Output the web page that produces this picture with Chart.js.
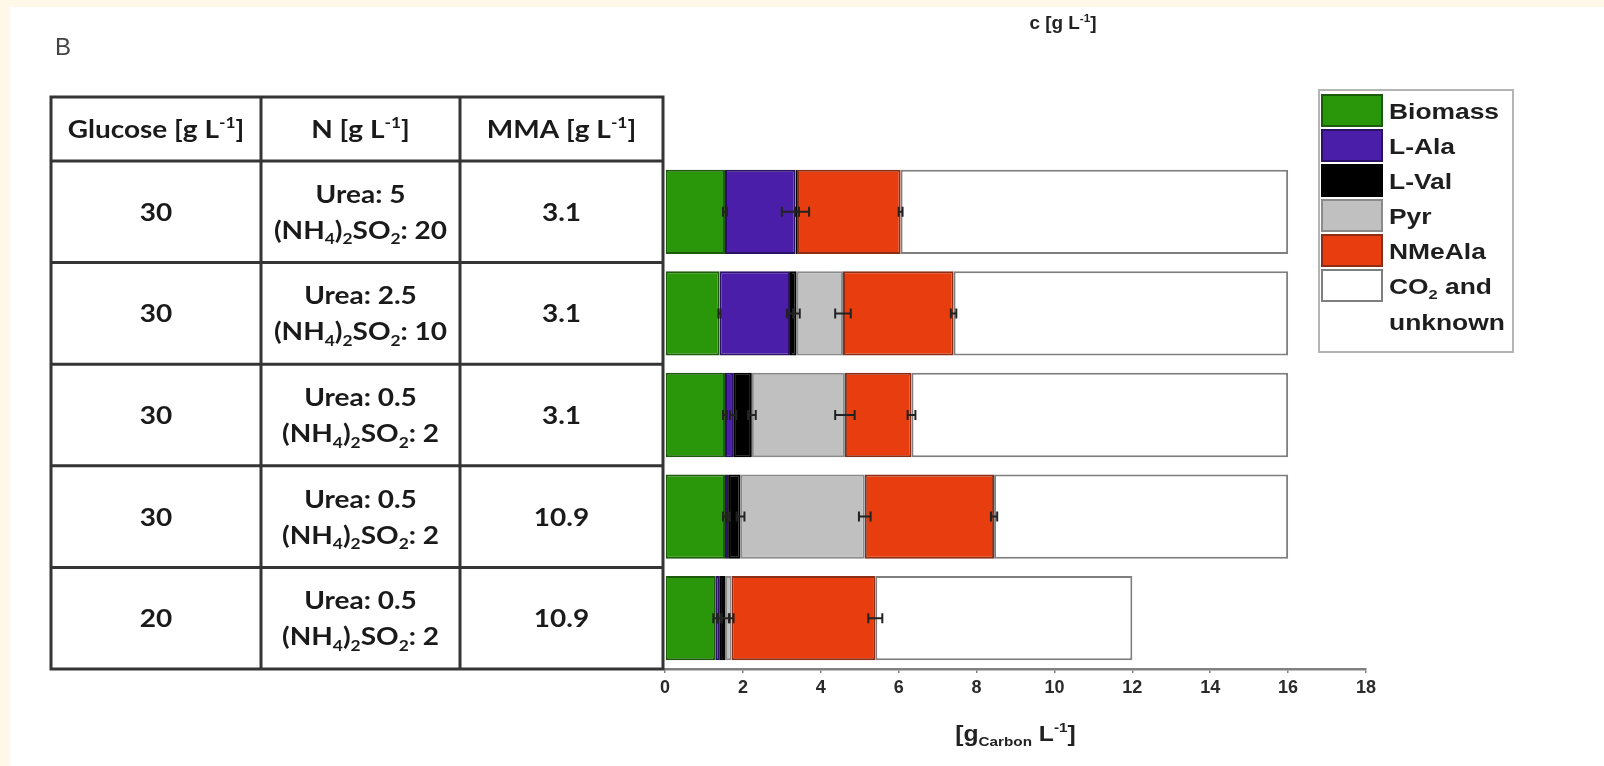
<!DOCTYPE html>
<html><head><meta charset="utf-8">
<script src="https://cdn.jsdelivr.net/npm/chart.js@4.4.1/dist/chart.umd.min.js"></script>
<style>html,body{margin:0;padding:0;background:#fff;}#wrap{width:1604px;height:766px;position:relative;}</style>
</head><body><div id="wrap"><canvas id="c" width="1604" height="766"></canvas></div>
<script>
// ---- data ----
const categories = ['Glc 30 / Urea 5 / AS 20 / MMA 3.1','Glc 30 / Urea 2.5 / AS 10 / MMA 3.1','Glc 30 / Urea 0.5 / AS 2 / MMA 3.1','Glc 30 / Urea 0.5 / AS 2 / MMA 10.9','Glc 20 / Urea 0.5 / AS 2 / MMA 10.9'];
const glucose = ['30','30','30','30','20'];
const urea = ['5','2.5','0.5','0.5','0.5'];
const ammonium = ['20','10','2','2','2'];
const mma = ['3.1','3.1','3.1','10.9','10.9'];
const seriesNames = ['Biomass','L-Ala','L-Val','Pyr','NMeAla','CO2 and unknown'];
const biomass = [1.54, 1.40, 1.54, 1.54, 1.29];
const lAla    = [1.81, 1.81, 0.21, 0.08, 0.12];
const lVal    = [0.04, 0.17, 0.48, 0.32, 0.13];
const pyr     = [0.00, 1.19, 2.39, 3.19, 0.17];
const nMeAla  = [2.66, 2.84, 1.71, 3.32, 3.69];
const co2     = [9.95, 8.59, 9.67, 7.55, 6.60];
const errBiomass = [0.05, 0.03, 0.05, 0.05, 0.05];
const errAla     = [0.35, 0.08, 0.08, 0.05, 0.05];
const errVal     = [0.05, 0.08, 0.10, 0.10, 0.10];
const errPyr     = [0.00, 0.20, 0.25, 0.15, 0.05];
const errNMeAla  = [0.05, 0.07, 0.10, 0.08, 0.18];
const xTicks = [0,2,4,6,8,10,12,14,16,18];

const seriesValues = [biomass, lAla, lVal, pyr, nMeAla, co2];
const seriesErrors = [errBiomass, errAla, errVal, errPyr, errNMeAla, null];
const fills   = ['#2a960a','#4b1eaa','#000000','#c0c0c0','#e83e0f','#ffffff'];
const borders = ['#1d5a0c','#2b1266','#000000','#8a8a8a','#8c2e16','#7f7f7f'];

const SANS = '"Liberation Sans", Arial, sans-serif';
const NARROW = '"Liberation Sans Narrow", "Liberation Sans", Arial, sans-serif';
const TBL = 'Lato, "Open Sans", sans-serif';

function rich(ctx, parts, x, y, size, family, weight, align, color, sx, subR){
  sx = sx || 1; subR = subR || 0.62;
  const small = size*subR;
  let w = 0;
  parts.forEach(p=>{ctx.font = weight+' '+(p[1]?small:size)+'px '+family; w += ctx.measureText(p[0]).width;});
  const W = w*sx;
  const startX = align==='center' ? x-W/2 : (align==='right' ? x-W : x);
  ctx.save();
  ctx.translate(startX, 0); ctx.scale(sx, 1);
  ctx.textAlign='left'; ctx.textBaseline='alphabetic'; ctx.fillStyle=color||'#222';
  const base = y + size*0.36;
  let cx = 0;
  parts.forEach(p=>{
    ctx.font = weight+' '+(p[1]?small:size)+'px '+family;
    const dy = p[1]===1 ? -size*0.40 : (p[1]===-1 ? size*0.22 : 0);
    ctx.fillText(p[0], cx, base+dy);
    cx += ctx.measureText(p[0]).width;
  });
  ctx.restore();
}

const decor = {
  id:'decor',
  beforeDraw(chart){
    const ctx=chart.ctx;
    ctx.save();
    ctx.fillStyle='#fff8e8'; ctx.fillRect(0,0,chart.width,chart.height);
    ctx.fillStyle='#ffffff'; ctx.fillRect(10,7,chart.width-10,chart.height-7);
    ctx.restore();
  },
  afterDatasetsDraw(chart){
    const ctx=chart.ctx, xs=chart.scales.x, ys=chart.scales.y;
    ctx.save();
    ctx.strokeStyle='#222'; ctx.lineWidth=2;
    for(let r=0;r<categories.length;r++){
      let cum=0;
      for(let s=0;s<5;s++){
        const v=seriesValues[s][r]; cum+=v;
        const e=seriesErrors[s][r];
        if(v<=0||!e) continue;
        const y=ys.getPixelForValue(r);
        const x1=xs.getPixelForValue(cum-e), x2=xs.getPixelForValue(cum+e);
        ctx.beginPath();
        ctx.moveTo(x1,y); ctx.lineTo(x2,y);
        ctx.moveTo(x1,y-5); ctx.lineTo(x1,y+5);
        ctx.moveTo(x2,y-5); ctx.lineTo(x2,y+5);
        ctx.stroke();
      }
    }
    ctx.restore();
  },
  afterDraw(chart){
    const ctx=chart.ctx, ys=chart.scales.y, ca=chart.chartArea;
    ctx.save();
    // panel letter and top caption
    ctx.fillStyle='#444'; ctx.font='24px '+SANS; ctx.textAlign='center'; ctx.textBaseline='middle';
    ctx.fillText('B',63,48);
    rich(ctx,[['c [g L',0],['-1',1],[']',0]],1063,23,18,SANS,'bold','center','#222',1.05);
    // table
    const band=(ca.bottom-ca.top)/categories.length;
    const tTop=97, cols=[51,261,460,663];
    const centers=[(cols[0]+cols[1])/2,(cols[1]+cols[2])/2,(cols[2]+cols[3])/2];
    ctx.strokeStyle='#353535'; ctx.lineWidth=3;
    ctx.beginPath();
    ctx.moveTo(cols[0],tTop); ctx.lineTo(cols[3],tTop);
    for(let i=0;i<=categories.length;i++){
      const y=ys.getPixelForValue(i)-band/2;
      ctx.moveTo(cols[0],y); ctx.lineTo(cols[3],y);
    }
    const tBot=ys.getPixelForValue(categories.length-1)+band/2;
    cols.forEach(x=>{ctx.moveTo(x,tTop-1.5); ctx.lineTo(x,tBot+1.5);});
    ctx.stroke();
    const hy=(tTop+ca.top)/2;
    const FS=25, SX=1.12, TC='#1a1a1a';
    rich(ctx,[['Glucose [g L',0],['-1',1],[']',0]],centers[0],hy,FS,TBL,'bold','center',TC,SX);
    rich(ctx,[['N [g L',0],['-1',1],[']',0]],centers[1],hy,FS,TBL,'bold','center',TC,SX);
    rich(ctx,[['MMA [g L',0],['-1',1],[']',0]],centers[2],hy,FS,TBL,'bold','center',TC,SX);
    for(let i=0;i<categories.length;i++){
      const yc=ys.getPixelForValue(i);
      rich(ctx,[[glucose[i],0]],centers[0],yc,FS,TBL,'bold','center',TC,SX);
      rich(ctx,[[mma[i],0]],centers[2],yc,FS,TBL,'bold','center',TC,SX);
      rich(ctx,[['Urea: '+urea[i],0]],centers[1],yc-18,FS,TBL,'bold','center',TC,SX);
      rich(ctx,[['(NH',0],['4',-1],[')',0],['2',-1],['SO',0],['2',-1],[': '+ammonium[i],0]],centers[1],yc+18,FS,TBL,'bold','center',TC,SX);
    }
    // x axis title
    rich(ctx,[['[g',0],['Carbon',-1],[' L',0],['-1',1],[']',0]],(ca.left+ca.right)/2,733,22,NARROW,'bold','center','#222',1.12,0.62);
    // legend
    const lx=1319, ly=90, lw=194, lh=262;
    ctx.fillStyle='#fff'; ctx.fillRect(lx,ly,lw,lh);
    ctx.strokeStyle='#b4b4b4'; ctx.lineWidth=2; ctx.strokeRect(lx,ly,lw,lh);
    chart.data.datasets.forEach((ds,i)=>{
      const sy=ly+5+i*35;
      ctx.fillStyle=ds.backgroundColor; ctx.fillRect(lx+3,sy,60,31);
      ctx.strokeStyle=ds.borderColor; ctx.lineWidth=2; ctx.strokeRect(lx+3,sy,60,31);
      const ty=sy+16;
      if(ds.label.startsWith('CO2')){
        rich(ctx,[['CO',0],['2',-1],[' and',0]],lx+70,ty,22,SANS,'bold','left','#1e1e1e',1.2);
        rich(ctx,[['unknown',0]],lx+70,ty+36,22,SANS,'bold','left','#1e1e1e',1.2);
      } else {
        rich(ctx,[[ds.label,0]],lx+70,ty,22,SANS,'bold','left','#1e1e1e',1.2);
      }
    });
    ctx.restore();
  }
};

new Chart(document.getElementById('c'),{
  type:'bar',
  data:{
    labels:categories,
    datasets:seriesValues.map((v,i)=>({label:seriesNames[i],data:v,backgroundColor:fills[i],borderColor:borders[i],borderWidth:2,borderSkipped:false,barPercentage:0.83,categoryPercentage:1}))
  },
  options:{
    indexAxis:'y', responsive:false, animation:false, events:[],
    layout:{padding:{left:665,right:238,top:161,bottom:57}},
    plugins:{legend:{display:false},tooltip:{enabled:false},title:{display:false}},
    scales:{
      x:{stacked:true,min:0,max:18,
        afterBuildTicks:s=>{s.ticks=xTicks.map(v=>({value:v}));},
        afterFit:s=>{s.height=40;},
        grid:{display:true,drawOnChartArea:false,drawTicks:true,tickLength:4,color:'#808080',lineWidth:1.5},
        border:{display:true,color:'#808080',width:2.5},
        ticks:{font:{family:NARROW,size:18,weight:'bold'},color:'#2a2a2a',padding:4,maxRotation:0,autoSkip:false}},
      y:{stacked:true,display:false}
    }
  },
  plugins:[decor]
});
</script></body></html>
